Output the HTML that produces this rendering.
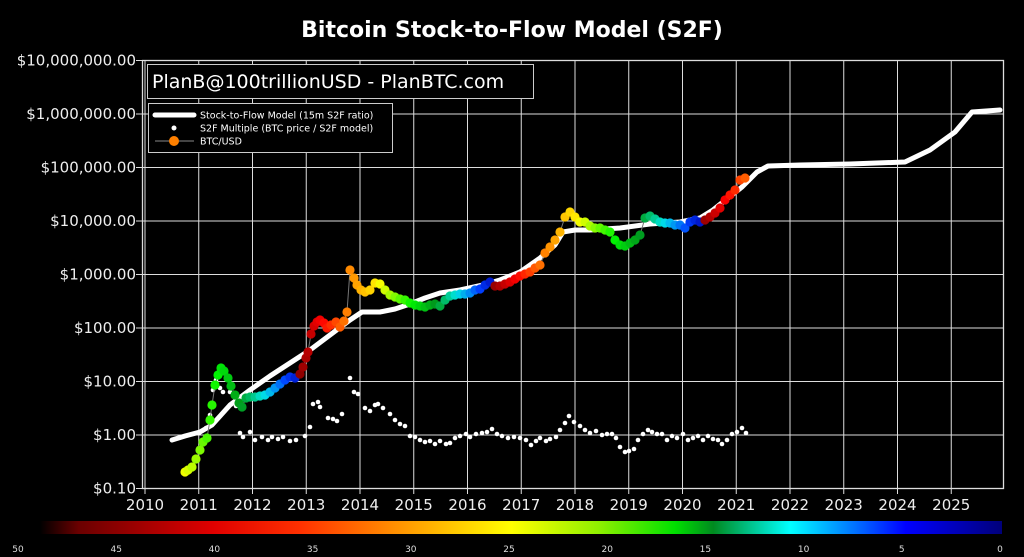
<!DOCTYPE html>
<html><head><meta charset="utf-8"><style>
html,body{margin:0;padding:0;background:#000;}
svg{display:block;font-family:"DejaVu Sans","Liberation Sans",sans-serif;}
</style></head><body>
<svg id="s" width="1024" height="557" viewBox="0 0 1024 557">
<defs>
<linearGradient id="cb" x1="0" x2="1" y1="0" y2="0">
<stop offset="0" stop-color="#000"/>
<stop offset="0.04" stop-color="#6a0000"/>
<stop offset="0.18" stop-color="#e00000"/>
<stop offset="0.27" stop-color="#ff3000"/>
<stop offset="0.37" stop-color="#ff9000"/>
<stop offset="0.49" stop-color="#ffff00"/>
<stop offset="0.58" stop-color="#90f000"/>
<stop offset="0.66" stop-color="#00e000"/>
<stop offset="0.70" stop-color="#008a20"/>
<stop offset="0.78" stop-color="#00ffff"/>
<stop offset="0.84" stop-color="#0080ff"/>
<stop offset="0.90" stop-color="#0000ff"/>
<stop offset="1" stop-color="#00007a"/>
</linearGradient>
</defs>
<text x="512" y="37" fill="#fff" font-size="22" font-weight="bold" text-anchor="middle">Bitcoin Stock-to-Flow Model (S2F)</text>
<g id="grid" stroke="#ddd" stroke-width="1"></g>
<rect x="142.5" y="60.5" width="861" height="428" fill="none" stroke="#ddd" stroke-width="1.3"/>
<g id="ylab" fill="#eee" font-size="15" text-anchor="end"></g>
<g id="xlab" fill="#eee" font-size="15" text-anchor="middle"></g>
<g id="data"></g>
<rect x="147.5" y="64.5" width="386" height="34" fill="#000" stroke="#ccc"/>
<text x="152" y="88" fill="#fff" font-size="19">PlanB@100trillionUSD - PlanBTC.com</text>
<rect x="148.5" y="103.5" width="244" height="49" fill="#000" stroke="#ccc"/>
<line x1="155" y1="115" x2="194" y2="115" stroke="#fff" stroke-width="5" stroke-linecap="round"/>
<text x="200" y="118.5" fill="#fff" font-size="9.5">Stock-to-Flow Model (15m S2F ratio)</text>
<circle cx="174" cy="128" r="2.5" fill="#fff"/>
<text x="200" y="131.5" fill="#fff" font-size="9.5">S2F Multiple (BTC price / S2F model)</text>
<line x1="155" y1="141" x2="194" y2="141" stroke="#888" stroke-width="1"/>
<circle cx="174" cy="141" r="5" fill="#ff8000"/>
<text x="200" y="144.5" fill="#fff" font-size="9.5">BTC/USD</text>
<rect x="40" y="521" width="962" height="13" fill="url(#cb)"/>
<g id="cbl" fill="#ddd" font-size="9" text-anchor="middle"></g>
</svg>
<script>
var NS="http://www.w3.org/2000/svg";
function el(p,t,a,tx){var e=document.createElementNS(NS,t);for(var k in a)e.setAttribute(k,a[k]);if(tx!=null)e.textContent=tx;document.getElementById(p).appendChild(e);return e;}
var ylabs=["$10,000,000.00","$1,000,000.00","$100,000.00","$10,000.00","$1,000.00","$100.00","$10.00","$1.00","$0.10"];
for(var i=0;i<9;i++){var y=60.5+i*53.5;el("grid","line",{x1:136,x2:1003,y1:y,y2:y});el("ylab","text",{x:136,y:y+5},ylabs[i]);}
for(var j=0;j<16;j++){var x=145+j*53.75;el("grid","line",{x1:x,x2:x,y1:60,y2:494});el("xlab","text",{x:x,y:510},String(2010+j));}
for(var k=0;k<=10;k++){el("cbl","text",{x:18+k*98.2,y:552},String(50-k*5));}
var m=[[172,440],[185,436],[200,432],[212,425],[230,405],[250,390],[270,376],[290,363],[310,350],[330,335],[350,320],[362,312],[380,312],[395,309],[410,304],[425,298],[440,293],[460,290],[483,285],[500,280],[520,272],[540,258],[555,245],[563,232],[575,230],[590,230],[620,228],[650,224],[680,222],[700,218],[713,210],[728,198],[742,187],[757,172],[768,166],[800,165],[850,164],[905,162],[930,150],[955,132],[972,112],[1000,110]];
el("data","polyline",{points:m.map(function(p){return p.join(",")}).join(" "),fill:"none",stroke:"#fff","stroke-width":5,"stroke-linejoin":"round","stroke-linecap":"round"});
var w=[[199,433],[206,428],[210,415],[213,390],[216,380],[220,388],[223,392],[230,392],[236,406],[240,433],[243,437],[250,432],[255,440],[262,437],[268,440],[272,437],[278,439],[283,437],[290,441],[296,440],[305,436],[310,427],[313,404],[318,402],[320,407],[328,418],[333,419],[337,421],[342,414],[350,378],[354,392],[358,394],[365,408],[370,411],[375,405],[378,404],[383,408],[390,414],[395,420],[400,424],[405,426],[410,436],[415,437],[420,440],[425,442],[430,441],[435,444],[440,441],[446,444],[450,443],[455,438],[460,436],[466,434],[470,437],[476,434],[482,433],[487,432],[492,429],[497,434],[502,436],[508,438],[514,437],[520,438],[526,440],[531,445],[536,441],[540,438],[546,441],[550,439],[556,437],[560,430],[565,423],[569,416],[574,422],[580,426],[585,430],[590,433],[596,431],[602,435],[607,434],[612,434],[616,438],[620,447],[625,452],[629,451],[634,449],[638,440],[643,434],[648,430],[652,432],[657,434],[662,434],[667,440],[672,436],[677,438],[683,434],[688,440],[693,438],[698,436],[703,440],[708,436],[713,439],[718,440],[722,444],[727,440],[732,434],[737,432],[742,428],[746,433]];
w.forEach(function(p){el("data","circle",{cx:p[0],cy:p[1],r:2.3,fill:"#fff"});});
var b=[[185,472],[188,470],[192,467],[196,459],[200,450],[203,442],[207,438],[210,420],[212,405],[215,385],[218,375],[221,368],[224,371],[228,378],[231,386],[235,395],[239,403],[242,407],[246,398],[250,397],[255,397],[260,396],[265,395],[270,392],[275,388],[280,384],[285,380],[290,377],[295,378],[300,374],[303,367],[306,358],[308,352],[311,334],[314,326],[317,322],[320,320],[324,323],[327,328],[331,325],[336,322],[340,327],[344,321],[347,312],[350,270],[354,278],[357,285],[361,290],[365,292],[370,290],[375,283],[380,284],[385,290],[390,295],[395,297],[400,299],[405,300],[410,303],[415,305],[420,306],[425,307],[430,305],[435,304],[440,306],[445,300],[450,296],[455,295],[460,294],[465,294],[470,293],[475,290],[480,289],[485,285],[490,282],[495,286],[500,286],[505,284],[510,282],[515,279],[520,276],[525,274],[530,272],[535,268],[540,265],[545,253],[550,247],[555,240],[560,232],[565,217],[570,212],[575,217],[580,222],[585,222],[590,226],[595,228],[600,228],[605,230],[610,232],[615,240],[620,245],[625,246],[630,243],[635,240],[640,235],[645,218],[650,216],[655,219],[660,222],[665,223],[670,223],[675,225],[680,225],[685,228],[690,222],[695,220],[700,222],[705,220],[710,217],[715,213],[720,208],[725,200],[730,195],[735,190],[740,180],[745,178]];
var stops=[[45,0,28],[40,0,50],[35,28,50],[28,55,50],[20,120,48],[15,130,30],[10,180,45],[5,225,50],[0,240,30]];
function col(x){var v;if(x<300)v=27-(x-185)/115*25;else if(x<493)v=45-(x-300)/193*43;else if(x<702)v=45-(x-493)/209*43;else v=45-(x-702)/58*12;
for(var i=0;i<stops.length-1;i++){var a=stops[i],c=stops[i+1];if(v<=a[0]&&v>=c[0]){var t=(a[0]-v)/(a[0]-c[0]);return "hsl("+(a[1]+(c[1]-a[1])*t)+",100%,"+(a[2]+(c[2]-a[2])*t)+"%)";}}
return "hsl(0,100%,30%)";}
el("data","polyline",{points:b.map(function(p){return p.join(",")}).join(" "),fill:"none",stroke:"#777","stroke-width":1});
b.forEach(function(p){el("data","circle",{cx:p[0],cy:p[1],r:4.6,fill:col(p[0])});});
</script>
</body></html>
